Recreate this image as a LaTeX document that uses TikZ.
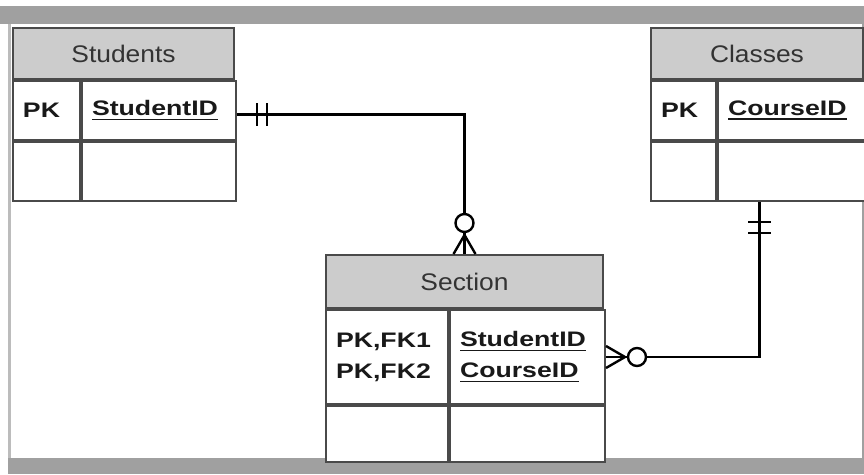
\documentclass[tikz,border=0pt]{standalone}
\usepackage{fontspec}
\setmainfont{Liberation Sans}
\newfontfamily\erhdfont[FakeStretch=1.1]{Liberation Sans}
\newfontfamily\erbdfont[FakeStretch=1.27]{Liberation Sans}
\definecolor{bandgray}{HTML}{A0A0A0}
\definecolor{hdgray}{HTML}{CCCCCC}
\definecolor{edgegray}{HTML}{4A4A4A}
\definecolor{hdtext}{HTML}{333333}
\newsavebox\erulbox
\newcommand{\erkeyul}[1]{\leavevmode\sbox\erulbox{#1}\rlap{\rule[-4.5pt]{\wd\erulbox}{1.8pt}}\usebox\erulbox}

\begin{document}
\begin{tikzpicture}[x=1pt, y=-1pt, line width=2pt]
\tikzset{
	erhead/.style={draw=edgegray, fill=hdgray, anchor=north west, minimum height=51pt, inner sep=0pt, text=hdtext, font=\erhdfont\fontsize{24}{28}\selectfont},
	erkey/.style={draw=edgegray, fill=white, anchor=north west, minimum height=59pt, inner xsep=10pt, inner ysep=0pt, align=left, text=black!90, font=\erbdfont\bfseries\fontsize{21}{31}\selectfont},
	erfield/.style={erkey},
	erlink/.style={draw=black, line width=2.4pt}
}
\useasboundingbox (0,0) rectangle (864,474);

% page frame
\fill[bandgray] (0,6) rectangle (864,24);
\fill[bandgray] (8,458) rectangle (864,474);
\fill[bandgray!70] (8,24) rectangle (10.5,458);
\fill[bandgray] (862,24) rectangle (864,458);

% Students
\node[erhead, minimum width=221pt] (stuH) at (12,27) {Students};
\node[erkey, text width=47pt] (stuK) at (stuH.south west) {PK};
\node[erfield, text width=134pt] (stuF) at (stuK.north east) {\erkeyul{StudentID}};
\node[erkey, text width=47pt] (stuK2) at (stuK.south west) {};
\node[erfield, text width=134pt] (stuF2) at (stuF.south west) {};

% Classes
\node[erhead, minimum width=212pt] (clsH) at (650,27) {Classes};
\node[erkey, text width=45pt] (clsK) at (clsH.south west) {PK};
\node[erfield, text width=127pt] (clsF) at (clsK.north east) {\erkeyul{CourseID}};
\node[erkey, text width=45pt] (clsK2) at (clsK.south west) {};
\node[erfield, text width=127pt] (clsE) at (clsF.south west) {};

% Section
\node[erhead, minimum width=277pt, minimum height=53pt] (secH) at (325,254) {Section};
\node[erkey, text width=102pt, minimum height=94pt] (secK) at (secH.south west) {PK,FK1\\PK,FK2};
\node[erfield, text width=135pt, minimum height=94pt] (secF) at (secK.north east) {\erkeyul{StudentID}\\\erkeyul{CourseID}};
\node[erkey, text width=102pt, minimum height=56pt] (secK2) at (secK.south west) {};
\node[erfield, text width=135pt, minimum height=56pt] (secF2) at (secF.south west) {};

% Students -- Section
\draw[erlink] ([yshift=-4pt]stuF.east) -| (secH.north);
\draw[erlink] ([xshift=20pt]stuF.east) ++(0,-7.5) -- ++(0,23);
\draw[erlink] ([xshift=30pt]stuF.east) ++(0,-7.5) -- ++(0,23);
\draw[erlink] (secH.north) ++(-11,0) -- ++(11,-19) -- ++(11,19);
\draw[erlink] (secH.north) -- ++(0,-19);
\draw[erlink, fill=white] (secH.north) ++(0,-31) circle[radius=9pt];

% Classes -- Section
\draw[erlink] ([xshift=-32pt]clsE.south) |- (secF.east);
\draw[erlink] ([xshift=-32pt]clsE.south) ++(-11.5,20) -- ++(23,0);
\draw[erlink] ([xshift=-32pt]clsE.south) ++(-11.5,31) -- ++(23,0);
\draw[erlink] (secF.east) ++(0,-11) -- ++(19,11) -- ++(-19,11);
\draw[erlink] (secF.east) -- ++(19,0);
\draw[erlink, fill=white] (secF.east) ++(31,0) circle[radius=9pt];

\end{tikzpicture}
\end{document}
